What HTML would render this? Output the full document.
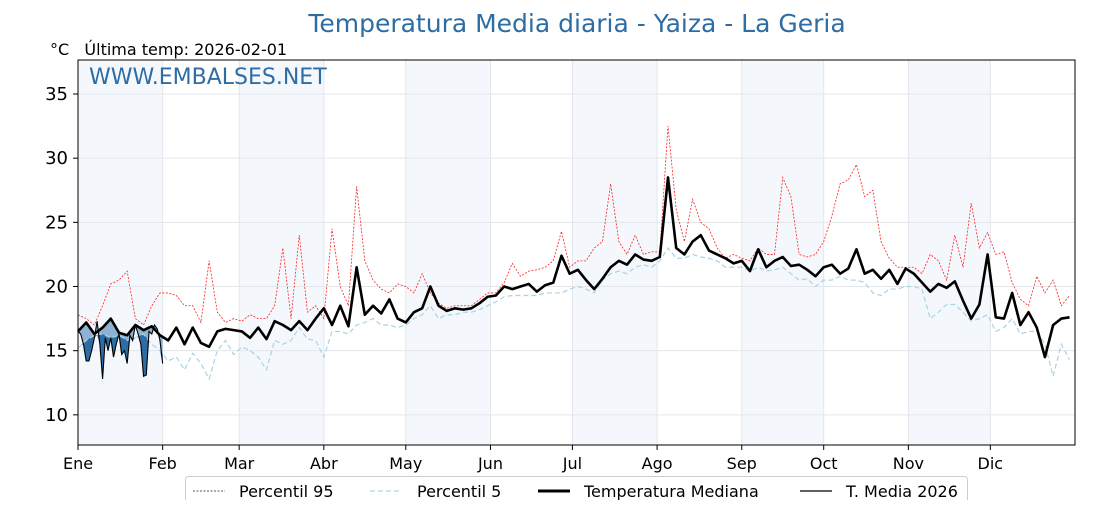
<!DOCTYPE html>
<html><head><meta charset="utf-8"><style>
body{margin:0;background:#fff;width:1120px;height:500px;overflow:hidden;font-family:"Liberation Sans","DejaVu Sans",sans-serif}
svg text{font-family:"DejaVu Sans","Liberation Sans",sans-serif}
</style></head><body>
<svg id="chart" width="1120" height="500" xmlns="http://www.w3.org/2000/svg">
<text x="577" y="32" font-size="25" fill="#2e6da4" text-anchor="middle">Temperatura Media diaria - Yaiza - La Geria</text>
<text x="50" y="55" font-size="16" fill="#000" xml:space="preserve">°C   Última temp: 2026-02-01</text>
<g id="bands"></g><g id="grid"></g><g id="series"></g><g id="axes"></g>
<text x="89" y="84" font-size="22" fill="#2e6da4">WWW.EMBALSES.NET</text>
<g>
<rect x="185.5" y="476.5" width="782" height="30" rx="3" fill="#fff" stroke="#ccc"/>
<line x1="193" y1="491" x2="225" y2="491" stroke="#555" stroke-width="1" stroke-dasharray="2,1.5"/>
<text x="239" y="497" font-size="16">Percentil 95</text>
<line x1="370" y1="491" x2="402" y2="491" stroke="#add8e6" stroke-width="1.2" stroke-dasharray="5,3"/>
<text x="417" y="497" font-size="16">Percentil 5</text>
<line x1="538" y1="491" x2="570" y2="491" stroke="#000" stroke-width="3"/>
<text x="584" y="497" font-size="16">Temperatura Mediana</text>
<line x1="800" y1="491" x2="832" y2="491" stroke="#000" stroke-width="1.2"/>
<text x="846" y="497" font-size="16">T. Media 2026</text>
</g>
</svg>
<script>
const months=["Ene","Feb","Mar","Abr","May","Jun","Jul","Ago","Sep","Oct","Nov","Dic"];
const monthStart=[0,31,59,90,120,151,181,212,243,273,304,334];
const yTicks=[10,15,20,25,30,35];
const step=3;
const median=[16.5,17.2,16.3,16.8,17.5,16.4,16.2,17,16.6,16.9,16.2,
15.8,16.8,15.5,16.8,15.6,15.3,16.5,16.7,16.6,
16.5,16,16.8,15.9,17.3,17,16.6,17.3,16.6,17.5,
18.3,17,18.5,16.9,21.5,17.8,18.5,17.9,19,17.5,
17.2,18,18.3,20,18.5,18.1,18.3,18.2,18.3,18.7,19.2,
19.3,20,19.8,20,20.2,19.6,20.1,20.3,22.4,21,
21.3,20.5,19.8,20.6,21.5,22,21.7,22.5,22.1,22,
22.3,28.5,23,22.5,23.5,24,22.8,22.5,22.2,21.8,
22,21.2,22.9,21.5,22,22.3,21.6,21.7,21.3,20.8,
21.5,21.7,21,21.4,22.9,21,21.3,20.6,21.3,20.2,21.4,
21,20.3,19.6,20.2,19.9,20.4,18.9,17.5,18.6,22.5,
17.6,17.5,19.5,17,18,16.8,14.5,17,17.5,17.6];
const p95=[17.8,17.5,17,18.5,20.2,20.5,21.2,17.5,17,18.5,19.5,
19.5,19.3,18.5,18.5,17.2,22,18,17.2,17.5,
17.3,17.8,17.5,17.5,18.5,23,17.5,24,18,18.5,
17.5,24.5,20,18.5,27.8,22,20.5,19.8,19.5,20.2,
20,19.5,21,19.5,18.7,18.3,18.5,18.5,18.5,19,19.5,
19.5,20.3,21.8,20.8,21.2,21.3,21.5,22,24.3,21.5,
22,22,23,23.5,28,23.5,22.5,24,22.5,22.7,
22.7,32.5,26,23.5,26.8,25,24.5,23,22.2,22.5,
22.2,22,23,22.5,22.5,28.5,27,22.5,22.3,22.5,
23.5,25.5,28,28.3,29.5,27,27.5,23.5,22.2,21.5,21.5,
21.5,21,22.5,22,20.5,24,21.5,26.5,23,24.2,
22.5,22.7,20.3,19,18.5,20.8,19.5,20.5,18.5,19.3];
const p5=[15.2,15.8,16.2,16.3,16,16.2,15.8,16,16.3,15.5,15,
14.2,14.5,13.5,14.8,14,12.8,15,15.8,14.7,
15.3,15,14.5,13.5,15.8,15.5,15.8,16.8,15.9,15.8,
14.5,16.5,16.5,16.3,17,17.2,17.5,17,17,16.8,
17,17.5,17.8,18.5,17.5,17.8,17.8,18,18,18.2,18.5,
18.8,19.2,19.3,19.3,19.3,19.3,19.5,19.5,19.5,19.8,
20,19.8,19.5,20.5,21,21.2,21,21.5,21.7,21.5,
22,23,22.2,22.2,22.5,22.3,22.2,22,21.5,21.5,
21.5,21.2,21.5,21.2,21.3,21.5,21,20.5,20.6,20,
20.5,20.5,20.8,20.5,20.5,20.3,19.5,19.3,19.8,19.8,20,
20,19.8,17.5,18,18.6,18.6,18,17.3,17.5,17.8,
16.5,16.8,17.5,16.3,16.5,16.5,15.5,13,15.5,14.3];
const t2026=[16.5,16.3,15.5,14.2,14.2,15,16,17.3,15.5,12.8,16,15,16,14.5,15.5,16.3,14.7,15,14,16.2,15.8,17,16.3,15.5,13,13.1,16.5,16.3,17,16.7,15.8,14];
const X0=78,X1=1075,Y0=60,Y1=445,YMIN=7.65,YMAX=37.65,NDAYS=365;
const x=d=>X0+d*(X1-X0)/NDAYS;
const y=v=>Y1-(v-YMIN)*(Y1-Y0)/(YMAX-YMIN);
const NS="http://www.w3.org/2000/svg";
function mk(tag,parent,attrs){const e=document.createElementNS(NS,tag);for(const k in attrs)e.setAttribute(k,attrs[k]);document.getElementById(parent).appendChild(e);return e;}
monthStart.forEach((d,i)=>{
 const end=i<11?monthStart[i+1]:NDAYS;
 if(i%2===0){const r=mk('rect','bands',{x:x(d),y:Y0,width:x(end)-x(d),height:Y1-Y0,fill:'#f4f8fc'});
 
 }
 const g=mk('line','grid',{x1:x(d),x2:x(d),y1:Y0,y2:Y1,stroke:'#e3e6ea','stroke-width':1});
 
 
 const t=mk('text','axes',{x:x(d),y:Y1+24,'font-size':16,'text-anchor':'middle'});t.textContent=months[i];
 
 
 mk('line','axes',{x1:x(d),x2:x(d),y1:Y1,y2:Y1+5,stroke:'#000'});
});
yTicks.forEach(v=>{
 const g=mk('line','grid',{x1:X0,x2:X1,y1:y(v),y2:y(v),stroke:'#e3e6ea','stroke-width':1});
 
 
 mk('line','axes',{x1:X0-5,x2:X0,y1:y(v),y2:y(v),stroke:'#000'});
 const t=mk('text','axes',{x:X0-10,y:y(v)+6,'font-size':18,'text-anchor':'end'});t.textContent=v;
 
 
});
const frame=mk('rect','axes',{x:X0,y:Y0,width:X1-X0,height:Y1-Y0,fill:'none',stroke:'#000','stroke-width':1});


const pts=(arr,s)=>arr.map((v,i)=>x(i*s)+','+y(v)).join(' ');
const medAt=d=>{const i=d/step,a=Math.floor(i),b=Math.min(a+1,median.length-1),f=i-a;return median[a]*(1-f)+median[b]*f;};
const p5At=d=>{const i=d/step,a=Math.floor(i),b=Math.min(a+1,p5.length-1),f=i-a;return p5[a]*(1-f)+p5[b]*f;};
let top1=t2026.map((v,d)=>x(d)+','+y(medAt(d)));
let bot1=t2026.map((v,d)=>x(d)+','+y(v)).reverse();
const f1=mk('polygon','series',{points:top1.concat(bot1).join(' '),fill:'#8fb2d2'});


let top2=t2026.map((v,d)=>x(d)+','+y(p5At(d)));
let bot2=t2026.map((v,d)=>x(d)+','+y(Math.min(v,p5At(d)))).reverse();
const f2=mk('polygon','series',{points:top2.concat(bot2).join(' '),fill:'#2e6da4'});


const l95=mk('polyline','series',{points:pts(p95,step),fill:'none',stroke:'#ff2020','stroke-width':0.8,'stroke-dasharray':'2,1.5'});


const l5=mk('polyline','series',{points:pts(p5,step),fill:'none',stroke:'#a8d4e4','stroke-width':1.2,'stroke-dasharray':'5,3'});


const lm=mk('polyline','series',{points:pts(median,step),fill:'none',stroke:'#000','stroke-width':2.6,'stroke-linejoin':'round'});


const lt=mk('polyline','series',{points:pts(t2026,1),fill:'none',stroke:'#000','stroke-width':1.1});


</script>
</body></html>
